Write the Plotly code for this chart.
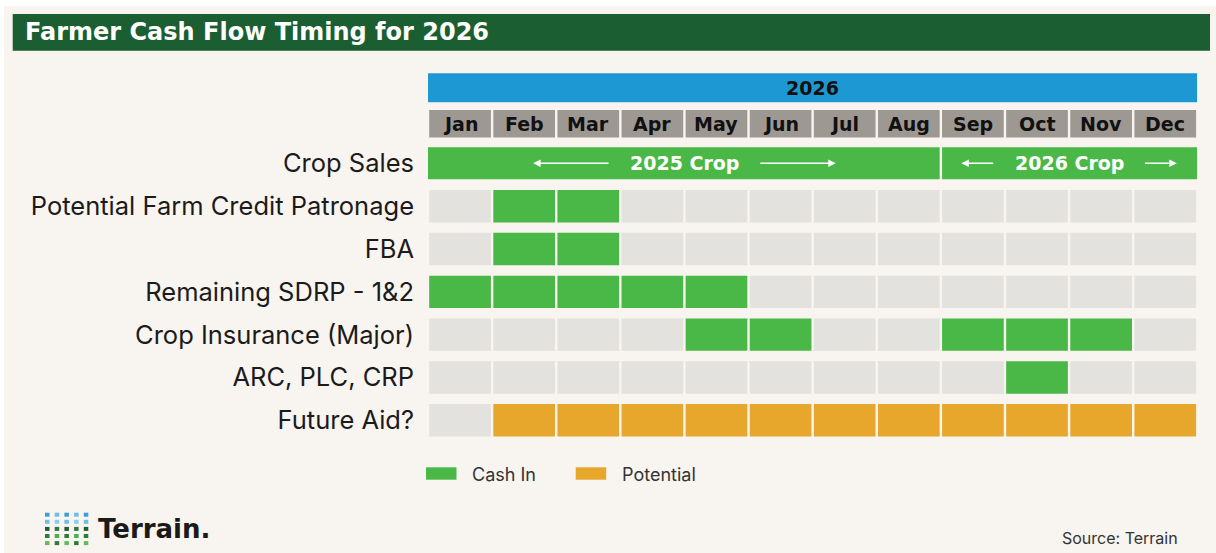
import plotly.graph_objects as go

# ---------------- data ----------------
TITLE = "Farmer Cash Flow Timing for 2026"
YEAR_LABEL = "2026"
MONTHS = ["Jan", "Feb", "Mar", "Apr", "May", "Jun", "Jul", "Aug", "Sep", "Oct", "Nov", "Dec"]

CROP_SALES_LABEL = "Crop Sales"
CROP_SEGMENTS = ["2025 Crop", "2026 Crop"]
CROP_START = [0, 8]    # first month index (Jan = 0)
CROP_END = [8, 12]     # month index after the last month

ROWS = ["Potential Farm Credit Patronage", "FBA", "Remaining SDRP - 1&2",
        "Crop Insurance (Major)", "ARC, PLC, CRP", "Future Aid?"]
# 0 = nothing, 1 = cash in, 2 = potential
FARM_CREDIT = [0, 1, 1, 0, 0, 0, 0, 0, 0, 0, 0, 0]
FBA = [0, 1, 1, 0, 0, 0, 0, 0, 0, 0, 0, 0]
SDRP = [1, 1, 1, 1, 1, 0, 0, 0, 0, 0, 0, 0]
CROP_INS = [0, 0, 0, 0, 1, 1, 0, 0, 1, 1, 1, 0]
ARC_PLC_CRP = [0, 0, 0, 0, 0, 0, 0, 0, 0, 1, 0, 0]
FUTURE_AID = [0, 2, 2, 2, 2, 2, 2, 2, 2, 2, 2, 2]
STATUS = [FARM_CREDIT, FBA, SDRP, CROP_INS, ARC_PLC_CRP, FUTURE_AID]

LEGEND_NAMES = ["Cash In", "Potential"]
SOURCE = "Source: Terrain"
LOGO_TEXT = "Terrain."

# ---------------- styling / geometry ----------------
W, H = 1216, 553
BG = "#F8F4F0"
GREEN = "#4AB847"
ORANGE = "#E7A72C"
EMPTY = "#E4E2DE"
MONTH_BG = "#9E9893"
BLUE = "#1E98D3"
TITLE_BG = "#1B5E31"
TEXT = "#1b1b1b"

X0_PX, X1_PX = 428, 1197.3
COL_PX = (X1_PX - X0_PX) / 12
GAP = 2.4 / COL_PX

HEADER_Y, HEADER_H = 87.7, 29
MONTH_Y, MONTH_H = 123.7, 27.5
CROP_Y, CROP_H = 163.3, 32
ROW0_Y, PITCH, ROW_H = 206.2, 42.82, 32.4
row_y = [ROW0_Y + i * PITCH for i in range(len(ROWS))]

BOLD = dict(family="DejaVu Sans", weight="bold")


def px(x):
    return x / W


def py(y):
    return 1 - y / H


def cells(color_status):
    b, l, y = [], [], []
    for r, st in enumerate(STATUS):
        for m, s in enumerate(st):
            if s == color_status:
                b.append(m + GAP / 2)
                l.append(1 - GAP)
                y.append(row_y[r])
    return b, l, y


fig = go.Figure()


def add_bars(base, length, ys, width, color):
    fig.add_trace(go.Bar(orientation="h", base=base, x=length, y=ys, width=width,
                         marker=dict(color=color, line=dict(width=0)),
                         hoverinfo="skip", showlegend=False))


# header year bar
add_bars([0], [12], [HEADER_Y], [HEADER_H], BLUE)
# month cells
add_bars([m + GAP / 2 for m in range(12)], [1 - GAP] * 12, [MONTH_Y] * 12, [MONTH_H] * 12, MONTH_BG)
# crop sales segments
add_bars([s + (GAP / 2 if s > 0 else 0) for s in CROP_START],
         [e - s - (GAP / 2 if s > 0 else 0) - (GAP / 2 if e < 12 else 0) for s, e in zip(CROP_START, CROP_END)],
         [CROP_Y] * len(CROP_START), [CROP_H] * len(CROP_START), GREEN)
for status, color in [(0, EMPTY), (1, GREEN), (2, ORANGE)]:
    b, l, y = cells(status)
    add_bars(b, l, y, [ROW_H] * len(y), color)

ann = []
ann.append(dict(x=6, y=HEADER_Y, xref="x", yref="y", text=YEAR_LABEL, showarrow=False,
                font=dict(size=19, color="#111", **BOLD)))
for m, name in enumerate(MONTHS):
    ann.append(dict(x=m + 0.5, y=MONTH_Y, xref="x", yref="y", text=name, showarrow=False,
                    font=dict(size=19, color="#111", **BOLD)))
ARROW_LEN = [1.2, 0.52]
ARROW_PAD = 1.16
for seg, s, e, al in zip(CROP_SEGMENTS, CROP_START, CROP_END, ARROW_LEN):
    c = (s + e) / 2
    ann.append(dict(x=c, y=CROP_Y, xref="x", yref="y", text=seg, showarrow=False,
                    font=dict(size=19, color="white", **BOLD)))
    for sign in (-1, 1):
        ann.append(dict(x=c + sign * (ARROW_PAD + al), y=CROP_Y, ax=c + sign * ARROW_PAD, ay=CROP_Y,
                        xref="x", yref="y", axref="x", ayref="y", text="", showarrow=True,
                        arrowhead=2, arrowsize=1, arrowwidth=1.5, arrowcolor="white"))

# title
ann.append(dict(x=px(23), y=py(32), xref="paper", yref="paper", xanchor="left", yanchor="middle",
                text=TITLE, showarrow=False, font=dict(size=24, color="white", **BOLD)))
# legend
LEG_X = [426, 575.7]
LEG_TXT_X = [470, 620]
LEG_COL = [GREEN, ORANGE]
shapes = []
for name, lx, tx, col in zip(LEGEND_NAMES, LEG_X, LEG_TXT_X, LEG_COL):
    shapes.append(dict(type="rect", xref="paper", yref="paper", x0=px(lx), x1=px(lx + 30.5),
                       y0=py(479.7), y1=py(467.3), fillcolor=col, line=dict(width=0)))
    ann.append(dict(x=px(tx), y=py(474.3), xref="paper", yref="paper", xanchor="left", yanchor="middle",
                    text=name, showarrow=False, font=dict(size=18, color="#333", family="Inter")))
# source
ann.append(dict(x=px(1180), y=py(537.7), xref="paper", yref="paper", xanchor="right", yanchor="middle",
                text=SOURCE, showarrow=False, font=dict(size=16, color="#333", family="Inter")))
# logo text
ann.append(dict(x=px(96), y=py(529), xref="paper", yref="paper", xanchor="left", yanchor="middle",
                text=LOGO_TEXT, showarrow=False, font=dict(size=26, color="#1a1a1a", **BOLD)))

# background decorations
shapes.insert(0, dict(type="rect", xref="paper", yref="paper", x0=px(12.7), x1=px(1210),
                      y0=py(50.7), y1=py(14), fillcolor=TITLE_BG, line=dict(width=0), layer="below"))
shapes.insert(0, dict(type="rect", xref="paper", yref="paper", x0=0, x1=1, y0=py(6), y1=1,
                      fillcolor="white", line=dict(width=0), layer="below"))
shapes.insert(0, dict(type="rect", xref="paper", yref="paper", x0=0, x1=px(4), y0=0, y1=1,
                      fillcolor="white", line=dict(width=0), layer="below"))

# logo dots
LOGO_COLORS = [
    ["#3C9ED9", "#6DBDEB", "#3C9ED9", "#6DBDEB", "#3C9ED9"],
    ["#6DBDEB", "#8ACDF2", "#6DBDEB", "#8ACDF2", "#6DBDEB"],
    ["#1F5E2F", "#2E7A3C", "#1F5E2F", "#2E7A3C", "#1F5E2F"],
    ["#2E7A3C", "#4AAE4A", "#2E7A3C", "#4AAE4A", "#2E7A3C"],
    ["#5CBF57", "#2E7A3C", "#5CBF57", "#2E7A3C", "#5CBF57"],
]
for r, rowc in enumerate(LOGO_COLORS):
    for c, col in enumerate(rowc):
        x0 = 45 + c * 9.7
        y0 = 512.7 + r * 7.1
        shapes.append(dict(type="rect", xref="paper", yref="paper", x0=px(x0), x1=px(x0 + 4.5),
                           y0=py(y0 + 4), y1=py(y0), fillcolor=col, line=dict(width=0)))

fig.update_layout(
    width=W, height=H, margin=dict(l=0, r=0, t=0, b=0),
    paper_bgcolor=BG, plot_bgcolor=BG, barmode="overlay", showlegend=False,
    xaxis=dict(domain=[px(X0_PX), px(X1_PX)], range=[0, 12], visible=False, fixedrange=True),
    yaxis=dict(domain=[0, 1], range=[H, 0], showgrid=False, zeroline=False, showline=False,
               ticks="", tickvals=[CROP_Y] + row_y, ticktext=[CROP_SALES_LABEL] + ROWS,
               ticklabelstandoff=13, tickfont=dict(family="Inter", size=25.5, color=TEXT),
               fixedrange=True),
    annotations=ann, shapes=shapes,
)

fig.write_html("out.html", config={"displayModeBar": False},
               post_script="document.body.style.margin='0';document.body.style.overflow='hidden';")
